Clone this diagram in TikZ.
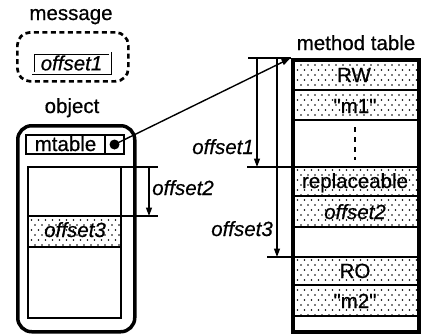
\documentclass[tikz,border=0pt]{standalone}
\usepackage{fontspec}
\newfontfamily\lsans[FakeBold=0.6]{Liberation Sans}
\usetikzlibrary{patterns.meta,arrows.meta}

% sparse stipple used for the shaded slots
\tikzdeclarepattern{
  name=sparsedots,
  type=uncolored,
  bottom left={(-1pt,-1pt)},
  top right={(8pt,11pt)},
  tile size={(7pt,10pt)},
  code={
    \fill (0pt,0pt) circle (0.8pt);
    \fill (3.5pt,5pt) circle (0.8pt);
  }
}

\tikzset{
  lbl/.style={font=\lsans\fontsize{20.5}{23}\selectfont, inner sep=0pt, anchor=base},
  ilbl/.style={lbl, font=\lsans\itshape\fontsize{20.5}{23}\selectfont},
  rule/.style={line width=1.4pt},
  heavy/.style={line width=3.2pt},
  stipple/.style={pattern=sparsedots, pattern color=black},
  tip/.style={-{Triangle[length=8.5pt,width=6pt]}},
}

\begin{document}
\begin{tikzpicture}[x=1pt,y=-1pt]
\useasboundingbox (0,0) rectangle (421,335);

% ---- message ----
\node[lbl] (msglbl) at (71,20) {message};
\node[draw, line width=2.7pt, dash pattern=on 5pt off 3.5pt, rounded corners=13pt,
      minimum width=111pt, minimum height=49pt, anchor=north west] (msg) at (16,31) {};
\node[draw, double, double distance=1.2pt, line width=0.9pt, minimum width=77pt,
      minimum height=20pt, inner sep=0pt, font=\lsans\itshape\fontsize{20.5}{23}\selectfont]
      (sel) at (71.5,63) {offset1};

% ---- object ----
\node[lbl] (objlbl) at (72,113) {object};
\node[draw, line width=3.5pt, rounded corners=14pt, minimum width=117pt, minimum height=206pt,
      anchor=north west] (obj) at (16,124) {};
\draw[rule] (26,135) rectangle (124,154);
\draw[rule] (105,135) -- (105,154);
\node[lbl] (mtfield) at (65.5,151) {mtable};
\node[circle, fill, inner sep=0pt, minimum size=10pt] (ptr) at (114.5,144.5) {};

% object slots
\fill[stipple] (28,216) rectangle (121,247);
\draw[rule] (28,167) rectangle (121,318);
\draw[rule] (121,167) -- (158,167);
\draw[line width=1.9pt] (28,216) -- (158,216);
\draw[rule] (28,247) -- (121,247);
\node[ilbl] (slot3) at (75,237) {offset3};
\coordinate (o2a) at (149,167);
\coordinate (o2b) at (149,216);
\draw[rule, tip] (o2a) -- (o2b);
\node[ilbl] (o2lbl) at (183,195) {offset2};

% ---- method table ----
\node[lbl] (mtlbl) at (356,50) {method table};
\foreach \a/\b in {58/90, 90/120, 167/196, 196/227, 257/285, 285/316}
  \fill[stipple] (291,\a) rectangle (417,\b);
\foreach \y/\w in {90/1.6, 120/2, 167/2.2, 196/1.6, 227/2.4, 257/2.4, 285/1.6, 316/2.4}
  \draw[line width=\w pt] (291,\y) -- (417,\y);
\node[draw, line width=3.6pt, minimum width=126pt, minimum height=272pt,
      inner sep=0pt, anchor=north west] (tbl) at (291,58) {};
\node[lbl] (rw)   at (354,82)  {RW};
\node[lbl] (m1)   at (355,113) {"m1"};
\draw[line width=2.6pt, dash pattern=on 5pt off 5pt] (355,127) -- (355,160);
\node[lbl] (repl) at (355,188) {replaceable};
\node[ilbl] (off2) at (355,219) {offset2};
\node[lbl] (ro)   at (355,278) {RO};
\node[lbl] (m2)   at (355,308) {"m2"};

% ---- offsets into the table ----
\coordinate (d0)  at (248,58);
\coordinate (d1)  at (247,167);
\coordinate (d1e) at (291,167);
\coordinate (d3)  at (267,257);
\coordinate (d3e) at (291,257);
\coordinate (a1s) at (257,58);
\coordinate (a1e) at (257,167);
\coordinate (a3s) at (277,58);
\coordinate (a3e) at (277,257);
\draw[rule] (d0) -- (tbl.north west);
\draw[rule] (d1) -- (d1e);
\draw[rule] (d3) -- (d3e);
\draw[rule, tip] (a1s) -- (a1e);
\draw[rule, tip] (a3s) -- (a3e);
\node[ilbl, anchor=base east] (o1lbl) at (254,154) {offset1};
\node[ilbl, anchor=base east] (o3lbl) at (273,236) {offset3};

% ---- pointer from the object to its method table ----
\draw[line width=1.4pt, tip, shorten >=1pt] (ptr.center) -- (tbl.north west);
\end{tikzpicture}
\end{document}
